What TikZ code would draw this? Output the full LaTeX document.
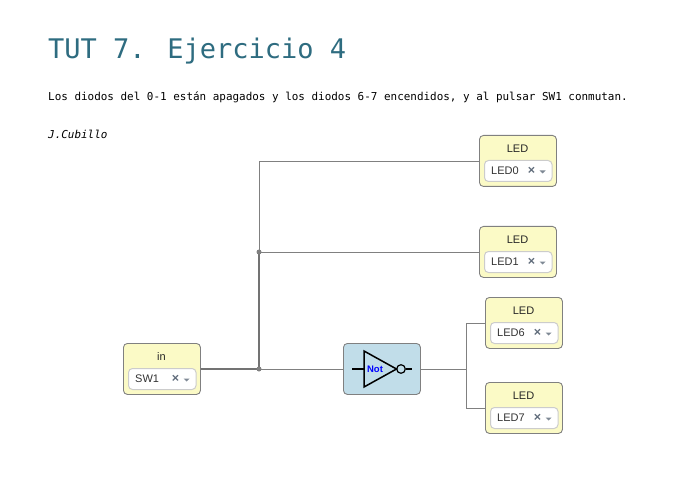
\documentclass[tikz,border=0pt]{standalone}
\usepackage{fontspec}
\setmainfont{Liberation Sans}
\newfontfamily\monof{DejaVu Sans Mono}
\definecolor{titlec}{HTML}{2E6C80}
\definecolor{blockc}{HTML}{FBFAC6}
\definecolor{edgec}{HTML}{808080}
\definecolor{gatec}{HTML}{C1DDE9}
\definecolor{wirec}{HTML}{808080}
\definecolor{selc}{HTML}{CCCCCC}
\definecolor{markc}{HTML}{5F6B7A}
\tikzset{
  x=1pt,y=-1pt,
  blockbox/.style={draw=edgec,line width=0.9pt,fill=blockc,rounded corners=4pt,minimum width=77pt,minimum height=51pt,inner sep=0pt,anchor=north west},
  notbox/.style={blockbox,fill=gatec},
  selbox/.style={draw=selc,line width=1pt,fill=white,rounded corners=4pt,minimum width=67.5pt,minimum height=21pt,inner sep=0pt,anchor=north west},
  blocklabel/.style={font=\fontsize{11}{13}\selectfont,text=black!85,inner sep=0pt},
  sellabel/.style={font=\fontsize{11}{13}\selectfont,text=black!80,inner sep=0pt,anchor=west},
  xmark/.style={font=\fontsize{12.5}{13}\selectfont\bfseries,text=markc,inner sep=0pt},
  wire/.style={draw=wirec,line width=1pt},
  busw/.style={draw=wirec!90!black,line width=1.6pt},
  dotn/.style={circle,fill=edgec,inner sep=0pt,minimum size=5pt},
  monotext/.style={font=\monof\fontsize{10.94}{13}\selectfont,text=black,anchor=base west,inner sep=0pt},
  gateline/.style={draw=black,line width=1.5pt},
}
\newcommand{\ledblock}[5]{%
  \node[blockbox] (#1) at (#2,#3) {};
  \node[blocklabel] (#1t) at (#2+38.5,#3+13.5) {#4};
  \node[selbox] (#1s) at (#2+5,#3+25) {};
  \node[sellabel] (#1v) at (#2+12,#3+35.5) {#5};
  \node[xmark] (#1x) at (#2+52.5,#3+35.5) {×};
  \fill[markc!80] (#2+60.5,#3+35.5) -- (#2+66.5,#3+35.5) -- (#2+63.5,#3+38.5) -- cycle;
}
\begin{document}
\begin{tikzpicture}
\useasboundingbox[fill=white] (0,0) rectangle (694,484);
\node[font=\monof\fontsize{27}{32}\selectfont,text=titlec,anchor=base west,inner sep=0pt] (title) at (48,59) {TUT 7. Ejercicio 4};
\node[monotext] (desc) at (48,101) {Los diodos del 0-1 están apagados y los diodos 6-7 encendidos, y al pulsar SW1 conmutan.};
\node[monotext,font=\monof\itshape\fontsize{10.94}{13}\selectfont] (author) at (48,139) {J.Cubillo};

\coordinate (j1) at (259,252);
\coordinate (j2) at (259,369);
\coordinate (t0) at (259,161.5);
\coordinate (b0) at (466,369);
\coordinate (b6) at (466,323);
\coordinate (b7) at (466,408);

\ledblock{in}{123}{343}{in}{SW1}
\ledblock{led0}{479}{135}{LED}{LED0}
\ledblock{led1}{479}{226}{LED}{LED1}
\ledblock{led6}{485}{297}{LED}{LED6}
\ledblock{led7}{485}{382}{LED}{LED7}
\node[notbox] (notg) at (343,343) {};

\draw[busw] (in.east|-j2) -- (j2);
\draw[wire] (j2) -- (notg.west|-j2);
\draw[busw] (j2) -- (j1);
\draw[wire] (j1) -- (t0) -- (t0-|led0.west);
\draw[wire] (j1) -- (j1-|led1.west);
\draw[wire] (notg.east|-j2) -- (b0);
\draw[wire] (b6-|led6.west) -- (b6) -- (b7) -- (b7-|led7.west);
\node[dotn] (dot1) at (j1) {};
\node[dotn] (dot2) at (j2) {};

\draw[gateline,line join=miter] (364,351) -- (364,387) -- (396.5,369) -- cycle;
\draw[gateline] (352,369) -- (364,369);
\draw[gateline] (405.5,369) -- (412,369);
\draw[line width=1.2pt,draw=black] (401,369) circle (4.3);
\node[font=\fontsize{9.5}{11}\selectfont\bfseries,text=blue,inner sep=0pt] (notl) at (375,369) {Not};
\end{tikzpicture}
\end{document}
